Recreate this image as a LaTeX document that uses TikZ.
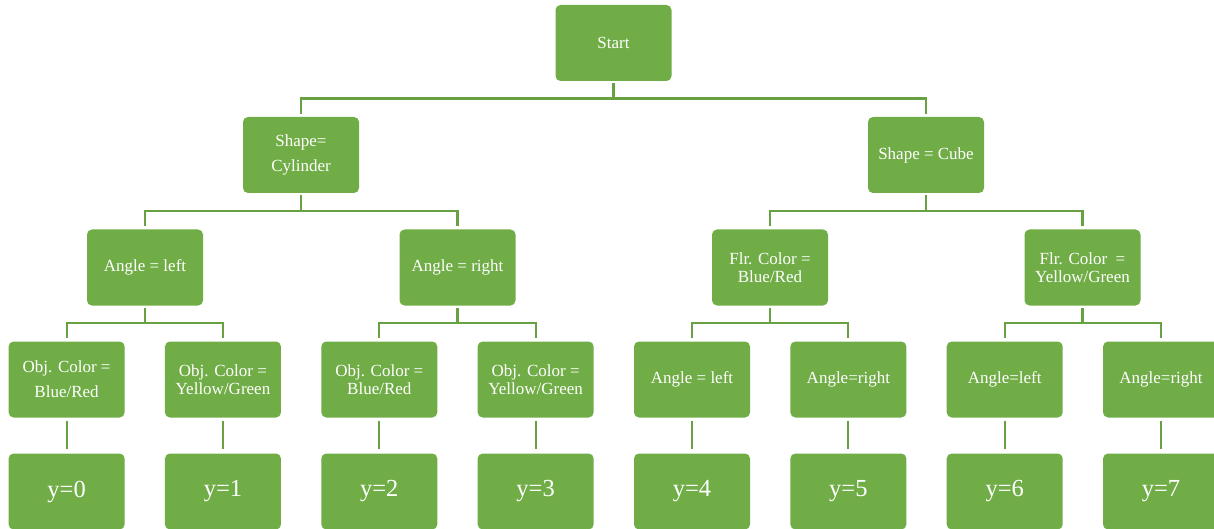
\documentclass[tikz,border=0pt]{standalone}
\usepackage{fontspec}
\setmainfont{Liberation Serif}
\definecolor{boxgreen}{HTML}{70AD47}
\definecolor{linegreen}{HTML}{67A141}
\tikzset{
  box/.style={fill=boxgreen, draw=none, rounded corners=5pt, minimum width=116pt, minimum height=76pt,
    inner sep=0pt, align=center, text=white, font=\fontsize{17}{18}\selectfont},
  widebox/.style={box, font=\fontsize{17}{25}\selectfont},
  leaf/.style={box, font=\fontsize{24.5}{26}\selectfont},
  conn/.style={draw=linegreen, line width=2.2pt, shorten <=2pt, shorten >=3pt},
}
\begin{document}
\begin{tikzpicture}[x=1pt,y=-1pt]
\useasboundingbox (0,0) rectangle (1214,529);
\clip (0,0) rectangle (1214,529);
% bar heights
\coordinate (b0) at (0,98.5);
\coordinate (b1) at (0,211);
\coordinate (b2) at (0,323);
% level 0
\node[box] (start) at (613.5,43) {Start};
% level 1
\node[widebox] (cyl) at (301,155) {Shape=\\Cylinder};
\node[box] (cube) at (926,155) {Shape = Cube};
% level 2
\node[box] (al) at (145,267.5) {Angle = left};
\node[box] (ar) at (457.5,267.5) {Angle = right};
\node[box] (fbr) at (770,267.5) {Flr. Color =\\Blue/Red};
\node[box] (fyg) at (1082.5,267.5) {Flr. Color\ \ =\\Yellow/Green};
% level 3
\node[widebox] (o1) at (66.6,379.5) {Obj. Color =\\Blue/Red};
\node[box] (o2) at (222.95,379.5) {Obj. Color =\\Yellow/Green};
\node[box] (o3) at (379.3,379.5) {Obj. Color =\\Blue/Red};
\node[box] (o4) at (535.65,379.5) {Obj. Color =\\Yellow/Green};
\node[box] (o5) at (692,379.5) {Angle = left};
\node[box] (o6) at (848.35,379.5) {Angle=right};
\node[box] (o7) at (1004.7,379.5) {Angle=left};
\node[box] (o8) at (1161.05,379.5) {Angle=right};
% level 4
\node[leaf] (y0) at (66.6,491.5) {y=0};
\node[leaf] (y1) at (222.95,491.5) {y=1};
\node[leaf] (y2) at (379.3,491.5) {y=2};
\node[leaf] (y3) at (535.65,491.5) {y=3};
\node[leaf] (y4) at (692,491.5) {y=4};
\node[leaf] (y5) at (848.35,491.5) {y=5};
\node[leaf] (y6) at (1004.7,491.5) {y=6};
\node[leaf] (y7) at (1161.05,491.5) {y=7};
% connectors
\foreach \p/\c/\b in {start/cyl/b0, start/cube/b0,
  cyl/al/b1, cyl/ar/b1, cube/fbr/b1, cube/fyg/b1,
  al/o1/b2, al/o2/b2, ar/o3/b2, ar/o4/b2, fbr/o5/b2, fbr/o6/b2, fyg/o7/b2, fyg/o8/b2}
  \draw[conn] (\p.south) -- (\p.south |- \b) -| (\c.north);
\foreach \p/\c in {o1/y0, o2/y1, o3/y2, o4/y3, o5/y4, o6/y5, o7/y6, o8/y7}
  \draw[conn, shorten <=3pt, shorten >=4pt] (\p.south) -- (\c.north);
\end{tikzpicture}
\end{document}
